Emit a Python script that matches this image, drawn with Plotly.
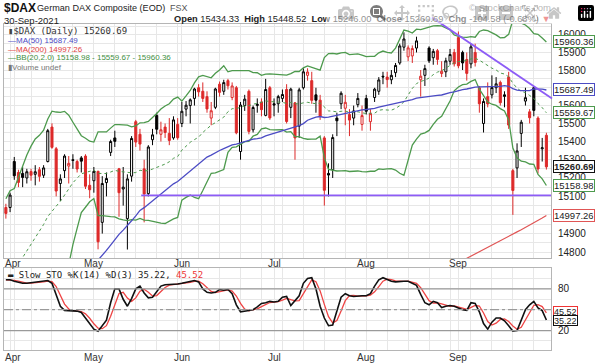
import math
import pandas as pd
import plotly.graph_objects as go

# ---------------- data ----------------
# closes before the visible window (Feb 1 - Mar 30 2021), used for MA(50) and BB(20,2)
prior_closes = [13622, 13835, 13933, 14060, 14057, 14060, 14011, 13933, 14040, 14050,
                14109, 14034, 13909, 13887, 13993, 13950, 13865, 13976, 13879, 13786,
                14012, 14039, 14080, 14056, 13920, 14380, 14437, 14541, 14569, 14502,
                14461, 14557, 14596, 14776, 14621, 14657, 14662, 14610, 14621, 14749,
                14818, 15009]

opens = [15040, 15040, 15290, 15230, 15225, 15200, 15235, 15220, 15245, 15215,
         15290, 15480, 15360, 15170, 15240, 15265, 15300, 15290, 15310, 15320,
         15160, 15185, 15236, 14960, 15175, 15340, 15420, 15250, 15140, 14980,
         15210, 15510, 15440, 15250, 15115, 15410, 15545, 15440, 15480, 15445,
         15420, 15495, 15500, 15580, 15600, 15640, 15700, 15680, 15650, 15530,
         15590, 15720, 15680, 15740, 15645, 15700, 15345, 15600, 15680, 15465,
         15600, 15620, 15545, 15700, 15610, 15610, 15640, 15690, 15590, 15615,
         15485, 15700, 15770, 15740, 15660, 15630, 15420, 15225, 15245, 15530,
         15610, 15585, 15550, 15530, 15605, 15495, 15640, 15510, 15645, 15680,
         15765, 15760, 15745, 15785, 15840, 15930, 15875, 15880, 15925, 15745,
         15770, 15925, 15870, 15910, 15780, 15790, 15850, 15900, 15985, 15900,
         15860, 15835, 15900, 15700, 15500, 15650, 15660, 15700, 15730, 15660,
         15760, 15240, 15255, 15445, 15625, 15565, 15700, 15530, 15360, 15434.33]
highs = [15060, 15120, 15315, 15245, 15260, 15250, 15250, 15270, 15260, 15270,
         15470, 15501, 15370, 15220, 15330, 15320, 15330, 15300, 15320, 15330,
         15220, 15260, 15240, 15210, 15230, 15410, 15460, 15255, 15260, 15220,
         15430, 15520, 15470, 15300, 15380, 15470, 15560, 15510, 15500, 15530,
         15540, 15530, 15620, 15625, 15640, 15700, 15720, 15730, 15680, 15620,
         15700, 15735, 15745, 15750, 15730, 15710, 15620, 15660, 15690, 15600,
         15640, 15640, 15750, 15710, 15640, 15660, 15690, 15720, 15700, 15620,
         15700, 15810, 15810, 15790, 15700, 15660, 15430, 15280, 15440, 15560,
         15680, 15660, 15580, 15600, 15670, 15600, 15660, 15580, 15700, 15760,
         15790, 15790, 15800, 15840, 15950, 16015, 15940, 15940, 15990, 15800,
         15830, 15935, 15920, 15920, 15850, 15870, 15920, 15920, 16020, 15910,
         15900, 15950, 15950, 15710, 15640, 15730, 15770, 15760, 15740, 15680,
         15790, 15250, 15390, 15520, 15700, 15580, 15710, 15540, 15420, 15448.52]
lows = [14980, 15015, 15190, 15150, 15150, 15170, 15185, 15160, 15180, 15200,
        15285, 15360, 15100, 15075, 15200, 15170, 15250, 15230, 15230, 15140,
        15090, 15120, 14816, 14900, 15100, 15320, 15370, 14990, 15050, 14815,
        15180, 15370, 15350, 14960, 15100, 15380, 15440, 15400, 15420, 15380,
        15410, 15410, 15480, 15540, 15500, 15600, 15650, 15620, 15560, 15490,
        15580, 15650, 15660, 15690, 15630, 15440, 15300, 15570, 15440, 15450,
        15560, 15540, 15540, 15520, 15540, 15560, 15620, 15500, 15530, 15300,
        15420, 15690, 15740, 15610, 15560, 15520, 15050, 15100, 15200, 15430,
        15580, 15490, 15430, 15490, 15590, 15460, 15550, 15460, 15620, 15660,
        15720, 15700, 15720, 15760, 15830, 15910, 15850, 15840, 15900, 15650,
        15710, 15840, 15830, 15830, 15760, 15760, 15830, 15820, 15810, 15800,
        15740, 15810, 15820, 15560, 15450, 15590, 15640, 15670, 15600, 15590,
        15470, 15000, 15200, 15370, 15600, 15500, 15540, 15225, 15290, 15246.00]
closes = [15008, 15107, 15212, 15176, 15203, 15234, 15215, 15234, 15209, 15255,
          15460, 15368, 15129, 15195, 15320, 15280, 15296, 15249, 15292, 15155,
          15136, 15236, 14856, 15170, 15197, 15400, 15401, 15120, 15150, 15195,
          15417, 15397, 15386, 15113, 15370, 15437, 15468, 15465, 15450, 15406,
          15520, 15421, 15568, 15602, 15632, 15693, 15677, 15640, 15581, 15571,
          15693, 15674, 15729, 15711, 15710, 15448, 15603, 15636, 15456, 15589,
          15607, 15577, 15690, 15531, 15603, 15650, 15662, 15511, 15692, 15420,
          15688, 15790, 15789, 15629, 15630, 15540, 15133, 15216, 15422, 15515,
          15669, 15618, 15519, 15570, 15640, 15544, 15568, 15555, 15692, 15744,
          15761, 15746, 15770, 15826, 15937, 15977, 15926, 15922, 15966, 15765,
          15808, 15852, 15906, 15860, 15793, 15852, 15888, 15835, 15824, 15840,
          15781, 15932, 15843, 15610, 15623, 15609, 15701, 15722, 15616, 15652,
          15491, 15132, 15348, 15507, 15644, 15532, 15573, 15249, 15365.27, 15260.69]

holidays = ["2021-04-02", "2021-04-05"]
month_names = ["Apr", "May", "Jun", "Jul", "Aug", "Sep"]

# MA(200) (visible part only, Sep 1 - Sep 30)
ma200_tail = [14745, 14757, 14768, 14780, 14792, 14804, 14815, 14827, 14839, 14850, 14862,
              14874, 14885, 14897, 14909, 14920, 14932, 14945, 14958, 14970, 14983, 14997.26]

# Slow stochastic %K(14)
stoch_k = [93, 93, 91, 89, 88, 88, 89, 89, 90, 91,
           92, 88, 70, 55, 49, 49, 48, 48, 46, 38,
           29, 22, 19, 27, 35, 60, 80, 80, 65, 55,
           66, 80, 84, 74, 67, 68, 76, 84, 86, 86,
           86, 87, 88, 89, 91, 92, 90, 80, 75, 74,
           75, 79, 78, 79, 73, 57, 47, 48, 50, 50,
           54, 59, 60, 62, 61, 62, 68, 69, 56, 63,
           70, 88, 95, 96, 80, 55, 38, 27, 28, 48,
           68, 73, 70, 69, 70, 70, 70, 73, 84, 93,
           96, 93, 91, 90, 91, 91, 91, 88, 85, 72,
           60, 57, 62, 60, 53, 55, 56, 55, 52, 50,
           49, 60, 59, 47, 30, 22, 32, 38, 38, 34,
           27, 19, 20, 35, 50, 57, 62, 52.6, 48.7, 35.22]

# right-axis price labels shown (15700 and 15000 sit under value boxes in the original)
price_labels = [14800, 14900, 15100, 15200, 15300, 15400, 15500, 15600, 15800, 15900, 16000]

# ---------------- derived ----------------
dates = [d for d in pd.bdate_range("2021-03-31", "2021-09-30") if d.strftime("%Y-%m-%d") not in holidays]
n = len(dates)
xs = list(range(n))

all_c = pd.Series(prior_closes + closes, dtype=float)
k0 = len(prior_closes)
ma50 = all_c.rolling(50).mean().iloc[k0:].tolist()
mid = all_c.rolling(20).mean()
sd = all_c.rolling(20).std(ddof=0)
bb_up = (mid + 2 * sd).iloc[k0:].tolist()
bb_lo = (mid - 2 * sd).iloc[k0:].tolist()
bb_mid = mid.iloc[k0:].tolist()

prev = [prior_closes[-1]] + closes[:-1]
red_idx = [i for i in range(n) if closes[i] < prev[i]]
blk_idx = [i for i in range(n) if closes[i] >= prev[i]]

stoch_d = [sum(stoch_k[max(0, i - 2):i + 1]) / len(stoch_k[max(0, i - 2):i + 1]) for i in range(n)]

month_idx = [i for i in range(1, n) if dates[i].month != dates[i - 1].month]
week_idx = [i for i in range(1, n) if dates[i].weekday() <= dates[i - 1].weekday()]
grid_x = sorted(set(month_idx + week_idx))

# ---------------- geometry helpers ----------------
W, H = 600, 363
L, R, T, B = 4, 49, 24, 13
PW, PH = W - L - R, H - T - B


def fx(px):
    return (px - L) / PW


def fy(py):
    return (H - B - py) / PH


RED = "#dd2a2a"
GREEN = "#4d9a4d"
BLUE = "#4b4bc4"
PURPLE = "#8d5cf6"

fig = go.Figure()


def sub(lst, idx):
    return [lst[i] for i in idx]


for idx, col in [(blk_idx, "#000000"), (red_idx, RED)]:
    fig.add_trace(go.Candlestick(
        x=idx, open=sub(opens, idx), high=sub(highs, idx), low=sub(lows, idx), close=sub(closes, idx),
        increasing=dict(line=dict(color=col, width=1), fillcolor="#ffffff"),
        decreasing=dict(line=dict(color=col, width=1), fillcolor=col),
        whiskerwidth=0, xaxis="x", yaxis="y", hoverinfo="skip"))

fig.add_trace(go.Scatter(x=xs, y=bb_up, mode="lines", line=dict(color=GREEN, width=1.3), xaxis="x", yaxis="y"))
fig.add_trace(go.Scatter(x=xs, y=bb_lo, mode="lines", line=dict(color=GREEN, width=1.3), xaxis="x", yaxis="y"))
fig.add_trace(go.Scatter(x=xs, y=bb_mid, mode="lines", line=dict(color=GREEN, width=1, dash="dot"), xaxis="x", yaxis="y"))
fig.add_trace(go.Scatter(x=xs, y=ma50, mode="lines", line=dict(color=BLUE, width=1.3), xaxis="x", yaxis="y"))
fig.add_trace(go.Scatter(x=xs[n - len(ma200_tail):], y=ma200_tail, mode="lines", line=dict(color="#e05555", width=1.2), xaxis="x", yaxis="y"))
fig.add_trace(go.Scatter(x=[32.3, 131], y=[15105, 15105], mode="lines", line=dict(color=PURPLE, width=1.8), xaxis="x", yaxis="y"))

fig.add_trace(go.Scatter(x=xs, y=stoch_d, mode="lines", line=dict(color="#ee4444", width=1.3), xaxis="x2", yaxis="y2"))
fig.add_trace(go.Scatter(x=xs, y=stoch_k, mode="lines", line=dict(color="#111111", width=1.6), xaxis="x2", yaxis="y2"))

axis_common = dict(showline=True, mirror=True, linecolor="#b5b5b5", linewidth=1, zeroline=False,
                   gridcolor="#e7e7e7", gridwidth=1, ticks="")

ymain_ticks = list(range(14800, 16051, 50))
fig.update_layout(
    width=W, height=H, margin=dict(l=L, r=R, t=T, b=B), showlegend=False,
    paper_bgcolor="#ffffff", plot_bgcolor="#ffffff",
    xaxis=dict(domain=[0, 1], range=[-0.45, 130.1], anchor="y", tickmode="array", tickvals=grid_x,
               showticklabels=False, showgrid=True, rangeslider=dict(visible=False), **axis_common),
    xaxis2=dict(domain=[0, 1], range=[-0.45, 130.1], anchor="y2", matches="x", tickmode="array", tickvals=grid_x,
                showticklabels=False, showgrid=True, **axis_common),
    yaxis=dict(domain=[fy(258), 1], type="log", range=[math.log10(14770), math.log10(16063)], side="right",
               tickmode="array", tickvals=ymain_ticks,
               ticktext=[str(v) if v in price_labels else "" for v in ymain_ticks],
               tickfont=dict(family="Arial", size=10, color="#222222"), ticklabelstandoff=4,
               showgrid=True, **axis_common),
    yaxis2=dict(domain=[0, fy(268)], range=[-8, 110], side="right", tickmode="array",
                tickvals=[5, 20, 35, 50, 65, 80, 95], ticktext=["", "20", "", "", "", "80", ""],
                tickfont=dict(family="Arial", size=10, color="#222222"), ticklabelstandoff=4,
                showgrid=True, **axis_common),
)

shapes = [
    dict(type="line", xref="paper", yref="y2", x0=0, x1=1, y0=80, y1=80, line=dict(color="#9a9a9a", width=1.2)),
    dict(type="line", xref="paper", yref="y2", x0=0, x1=1, y0=20, y1=20, line=dict(color="#9a9a9a", width=1.2)),
    dict(type="line", xref="paper", yref="y2", x0=0, x1=1, y0=50, y1=50, line=dict(color="#9a9a9a", width=1.2, dash="dashdot")),
    dict(type="line", xref="paper", yref="paper", x0=fx(432), y0=fy(17.5), x1=fx(552), y1=fy(98.5),
         line=dict(color=PURPLE, width=1.8)),
]
fig.update_layout(shapes=shapes)

ann = []


def text(px, py, s, size=9, color="#222222", family="Arial", anchor="left"):
    ann.append(dict(xref="paper", yref="paper", x=fx(px), y=fy(py), text=s, showarrow=False,
                    xanchor=anchor, yanchor="middle", font=dict(size=size, color=color, family=family)))


# header
text(2, 8, "<b>$DAX</b>", size=12, color="#111111")
text(35, 8, "German DAX Composite (EOD)", size=9.1, color="#222222")
text(168, 8, "FSX", size=9, color="#555555")
text(2, 20, "30-Sep-2021", size=9.5, color="#222222")
text(553, 19, "<b>Open</b> 15434.33  <b>High</b> 15448.52  <b>Low</b> 15246.00  <b>Close</b> 15260.69  "
              "<b>Chg</b> -104.58 (-0.68%) <span style='color:#dd2a2a'>▼</span>",
     size=9.3, color="#222222", anchor="right")
text(553, 7, "© StockCharts.com", size=9.5, color="#707070", anchor="right")

# main legend
text(6, 31, "<span style='color:#444'>▮</span>$DAX (Daily) 15260.69", size=9, color="#333333", family="DejaVu Sans Mono")
text(6, 40, "—MA(50) 15687.49", size=8, color=BLUE)
text(6, 49, "—MA(200) 14997.26", size=8, color="#e04040")
text(6, 58, "—BB(20,2.0) 15158.98 - 15559.67 - 15960.36", size=8, color="#3f8f3f")
text(6, 67, "▮Volume undef", size=8, color="#777777")

# lower legend
text(6, 275, "▬ Slow STO %K(14) %D(3) 35.22, <span style='color:#ee3333'>45.52</span>", size=9,
     color="#222222", family="DejaVu Sans Mono")

# month labels
for name, i in zip(month_names, month_idx):
    xi = max(i, 1.6)
    for py in (263, 357):
        ann.append(dict(xref="x", yref="paper", x=xi, y=fy(py), text=name, showarrow=False,
                        xanchor="center", yanchor="middle", font=dict(size=10, color="#333333", family="Arial")))

# value boxes
boxes_main = [(15960.36, GREEN, False), (15687.49, BLUE, False), (15559.67, GREEN, False),
              (15260.69, "#111111", True), (15158.98, GREEN, False), (14997.26, "#e05555", False)]
for v, col, bold in boxes_main:
    s = f"{v:.2f}"
    ann.append(dict(xref="paper", yref="y", x=fx(553), y=math.log10(v), text=f"<b>{s}</b>" if bold else s,
                    showarrow=False, xanchor="left", yanchor="middle", bgcolor="#ffffff", bordercolor=col,
                    borderwidth=1, borderpad=0, height=11,
                    font=dict(size=9.5, color="#222222", family="Arial")))
for v, yv, col in [(45.52, 47, "#ee3333"), (35.22, 35, "#111111")]:
    ann.append(dict(xref="paper", yref="y2", x=fx(553), y=yv, text=f"{v:.2f}", showarrow=False,
                    xanchor="left", yanchor="middle", bgcolor="#ffffff", bordercolor=col, borderwidth=1,
                    borderpad=0, height=9, font=dict(size=9, color="#222222", family="Arial")))

fig.update_layout(annotations=ann)
fig.write_html("out.html",
               post_script="document.body.style.margin='0';document.body.style.overflow='hidden';")
